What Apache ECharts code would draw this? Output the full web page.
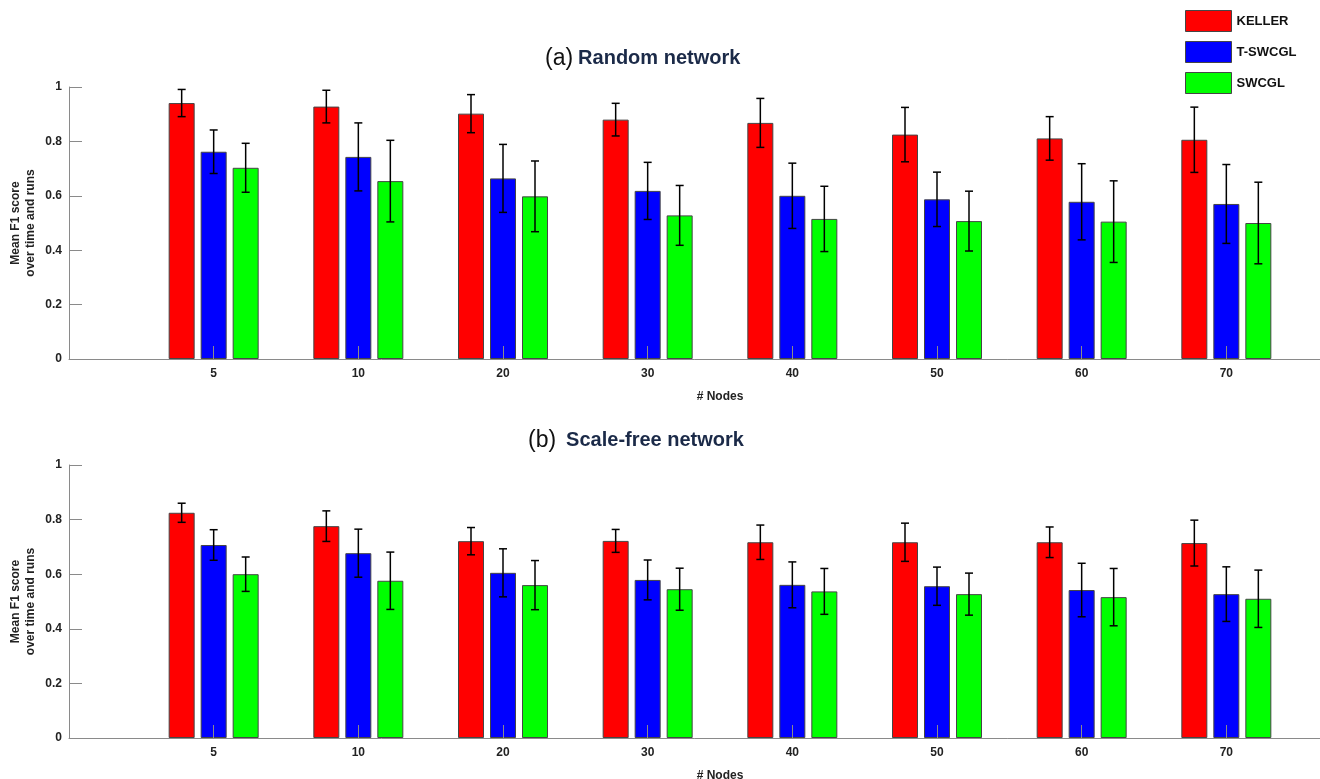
<!DOCTYPE html>
<html>
<head>
<meta charset="utf-8">
<script src="https://cdn.jsdelivr.net/npm/echarts@6/dist/echarts.min.js"></script>
<style>html,body{margin:0;padding:0;background:#fff;}#c{width:1320px;height:779px;}</style>
</head>
<body>
<div id="c"></div>
<script>
// ---- data ----
const nodes = ['5', '10', '20', '30', '40', '50', '60', '70'];
const seriesNames = ['KELLER', 'T-SWCGL', 'SWCGL'];
const yTicks = [0, 0.2, 0.4, 0.6, 0.8, 1];

// (a) Random network
const randKeller    = [0.941, 0.928, 0.902, 0.880, 0.868, 0.825, 0.811, 0.806];
const randKellerErr = [0.050, 0.060, 0.070, 0.060, 0.090, 0.100, 0.080, 0.120];
const randTswcgl    = [0.762, 0.743, 0.664, 0.618, 0.600, 0.587, 0.578, 0.570];
const randTswcglErr = [0.080, 0.125, 0.125, 0.105, 0.120, 0.100, 0.140, 0.145];
const randSwcgl     = [0.703, 0.654, 0.598, 0.528, 0.515, 0.507, 0.505, 0.500];
const randSwcglErr  = [0.090, 0.150, 0.130, 0.110, 0.120, 0.110, 0.150, 0.150];

// (b) Scale-free network
const sfKeller    = [0.825, 0.776, 0.721, 0.722, 0.717, 0.717, 0.717, 0.714];
const sfKellerErr = [0.035, 0.056, 0.050, 0.042, 0.063, 0.070, 0.056, 0.084];
const sfTswcgl    = [0.707, 0.677, 0.605, 0.579, 0.561, 0.556, 0.542, 0.527];
const sfTswcglErr = [0.056, 0.088, 0.088, 0.073, 0.084, 0.070, 0.098, 0.100];
const sfSwcgl     = [0.600, 0.576, 0.560, 0.545, 0.537, 0.527, 0.516, 0.510];
const sfSwcglErr  = [0.063, 0.105, 0.090, 0.077, 0.084, 0.077, 0.105, 0.105];

// ---- styling ----
const colors = ['#ff0000', '#0000ff', '#00ff00'];
const axisGray = '#8a8a8a';
const txt = '#222222';
const font = 'Liberation Sans, Arial, Helvetica, sans-serif';
const barW = 26, barGapPx = 6;

// padded category list so the first real category sits one slot from the y-axis
const xCats = [''].concat(nodes, ['']);
function pad(arr) { return ['-'].concat(arr, ['-']); }

const panels = [
  { vals: [randKeller, randTswcgl, randSwcgl], errs: [randKellerErr, randTswcglErr, randSwcglErr] },
  { vals: [sfKeller, sfTswcgl, sfSwcgl], errs: [sfKellerErr, sfTswcglErr, sfSwcglErr] }
];

const grids = [
  { left: 69, top: 87, width: 1302, height: 272, outerBoundsMode: 'none', containLabel: false },
  { left: 69, top: 465, width: 1302, height: 273, outerBoundsMode: 'none', containLabel: false }
];

function makeX(gi) {
  return {
    type: 'category', gridIndex: gi, data: xCats, boundaryGap: false, z: 3,
    name: '# Nodes', nameLocation: 'middle', nameGap: 32,
    nameTextStyle: { fontFamily: font, fontWeight: 'bold', fontSize: 12, color: txt },
    axisLine: { lineStyle: { color: axisGray, width: 1 } },
    axisTick: { inside: true, length: 13, lineStyle: { color: axisGray } },
    axisLabel: { fontFamily: font, fontWeight: 'bold', fontSize: 12, color: txt, margin: 9 },
    splitLine: { show: false }
  };
}
function makeY(gi) {
  return {
    type: 'value', gridIndex: gi, min: 0, max: 1, interval: 0.2,
    name: 'Mean F1 score\nover time and runs', nameLocation: 'middle', nameGap: 31,
    nameMoveOverlap: false,
    nameTextStyle: { fontFamily: font, fontWeight: 'bold', fontSize: 12, color: txt, lineHeight: 15 },
    axisLine: { show: true, lineStyle: { color: axisGray, width: 1 } },
    axisTick: { show: true, inside: true, length: 13, lineStyle: { color: axisGray } },
    axisLabel: { fontFamily: font, fontWeight: 'bold', fontSize: 12, color: txt, margin: 7,
      formatter: function (v) { return String(+v.toFixed(1)); } },
    splitLine: { show: false }
  };
}

const series = [];
panels.forEach(function (p, gi) {
  seriesNames.forEach(function (nm, si) {
    series.push({
      name: nm, type: 'bar', xAxisIndex: gi, yAxisIndex: gi,
      data: pad(p.vals[si]), barWidth: barW, barGap: (barGapPx / barW * 100) + '%',
      itemStyle: { color: colors[si], borderColor: '#454545', borderWidth: 1 },
      emphasis: { disabled: true }, z: 2
    });
  });
  const errData = [];
  seriesNames.forEach(function (nm, si) {
    p.vals[si].forEach(function (v, i) { errData.push([i + 1, v, p.errs[si][i], si]); });
  });
  series.push({
    type: 'custom', xAxisIndex: gi, yAxisIndex: gi, z: 5, silent: true,
    data: errData,
    renderItem: function (params, api) {
      const x = api.value(0), v = api.value(1), e = api.value(2), s = api.value(3);
      const t = api.coord([x, v + e]);
      const b = api.coord([x, v - e]);
      const cx = t[0] + (s - 1) * (barW + barGapPx);
      const st = { stroke: '#000', lineWidth: 1.5 };
      return {
        type: 'group', children: [
          { type: 'line', shape: { x1: cx, y1: t[1], x2: cx, y2: b[1] }, style: st },
          { type: 'line', shape: { x1: cx - 4, y1: t[1], x2: cx + 4, y2: t[1] }, style: st },
          { type: 'line', shape: { x1: cx - 4, y1: b[1], x2: cx + 4, y2: b[1] }, style: st }
        ]
      };
    }
  });
});

const titleRich = {
  p: { fontFamily: font, fontSize: 23, fontWeight: 'normal', color: '#111' },
  t: { fontFamily: font, fontSize: 20, fontWeight: 'bold', color: '#1b2a48' }
};

const option = {
  animation: false,
  backgroundColor: '#fff',
  title: [
    { text: '{p|(a)} {t|Random network}', left: 540, top: 42, textStyle: { rich: titleRich } },
    { text: '{p|(b)}  {t|Scale-free network}', left: 523, top: 424, textStyle: { rich: titleRich } }
  ],
  legend: {
    data: seriesNames, orient: 'vertical', left: 1180, top: 5,
    itemWidth: 46, itemHeight: 21, itemGap: 9, icon: 'rect',
    itemStyle: { borderColor: '#454545', borderWidth: 1 },
    textStyle: { fontFamily: font, fontWeight: 'bold', fontSize: 13, color: '#111' }
  },
  grid: grids,
  xAxis: [makeX(0), makeX(1)],
  yAxis: [makeY(0), makeY(1)],
  series: series
};

const chart = echarts.init(document.getElementById('c'));
chart.setOption(option);
</script>
</body>
</html>
